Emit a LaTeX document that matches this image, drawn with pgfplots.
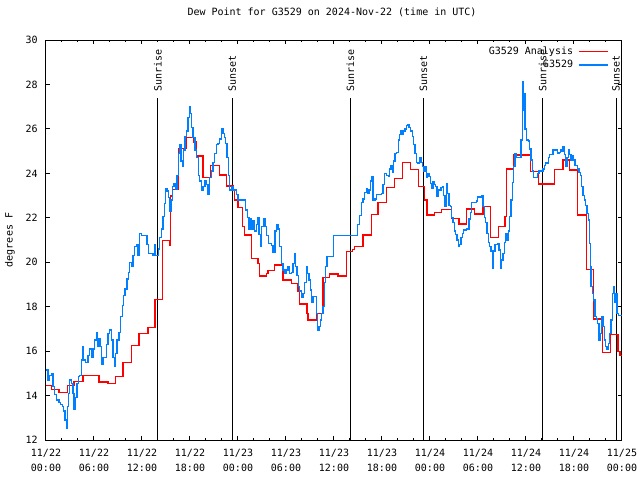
\documentclass[border=0pt]{standalone}
\usepackage{fontspec}
\setmainfont{DejaVu Sans Mono}
\setmonofont{DejaVu Sans Mono}
\usepackage{pgfplots}
\pgfplotsset{compat=1.18}
\definecolor{gred}{RGB}{255,0,0}
\definecolor{gblue}{RGB}{0,128,255}
\newcommand{\gfont}{\fontsize{7.5}{9}\selectfont}
\begin{document}
\begin{tikzpicture}
\begin{axis}[
  at={(0,0)}, anchor=south west,
  scale only axis, width=432pt, height=300pt,
  xmin=0, xmax=72, ymin=12, ymax=30,
  xtick={0,6,...,72}, minor x tick num=2,
  ytick={12,14,...,30},
  xtick pos=both, ytick pos=both,
  tick align=inside,
  major tick length=3pt, minor tick length=1.5pt,
  every tick/.style={black, line width=0.75pt},
  axis line style={line width=0.75pt},
  /pgf/number format/assume math mode=true,
  every tick label/.append style={font=\gfont},
  xticklabels={{11/22\\00:00},{11/22\\06:00},{11/22\\12:00},{11/22\\18:00},{11/23\\00:00},{11/23\\06:00},{11/23\\12:00},{11/23\\18:00},{11/24\\00:00},{11/24\\06:00},{11/24\\12:00},{11/24\\18:00},{11/25\\00:00}},
  xticklabel style={align=center, font=\fontsize{7.5}{11}\selectfont, yshift=-3.5pt},
  yticklabel style={xshift=-2.75pt},
  title={Dew Point for G3529 on 2024-Nov-22 (time in UTC)},
  title style={font=\gfont, at={(rel axis cs:0.5,1)}, anchor=center, yshift=15pt, xshift=-1.5pt},
  ylabel={degrees F},
  ylabel style={font=\gfont, at={([xshift=-27pt]rel axis cs:0,0.5)}, anchor=center},
  legend style={draw=none, fill=none, font=\gfont, at={(rel axis cs:0.985,0.995)}, anchor=north east,
    nodes={inner sep=1pt, text height=6pt, text depth=2pt}, column sep=3pt, row sep=0pt},
  legend cell align=right,
  legend plot pos=right,
  legend image code/.code={\draw[#1] (0pt,0pt) -- (22pt,0pt);},
]
% sunrise / sunset markers
\addplot[black, line width=0.75pt, forget plot] coordinates {(14.0,12) (14.0,27.39)};
\addplot[black, line width=0.75pt, forget plot] coordinates {(23.28,12) (23.28,27.39)};
\addplot[black, line width=0.75pt, forget plot] coordinates {(38.05,12) (38.05,27.39)};
\addplot[black, line width=0.75pt, forget plot] coordinates {(47.18,12) (47.18,27.39)};
\addplot[black, line width=0.75pt, forget plot] coordinates {(62.08,12) (62.08,27.39)};
\addplot[black, line width=0.75pt, forget plot] coordinates {(71.26,12) (71.26,27.39)};
\node[rotate=90, anchor=west, inner sep=0pt, font=\gfont] at (axis cs:14.0,27.66) {Sunrise};
\node[rotate=90, anchor=west, inner sep=0pt, font=\gfont] at (axis cs:23.28,27.66) {Sunset};
\node[rotate=90, anchor=west, inner sep=0pt, font=\gfont] at (axis cs:38.05,27.66) {Sunrise};
\node[rotate=90, anchor=west, inner sep=0pt, font=\gfont] at (axis cs:47.18,27.66) {Sunset};
\node[rotate=90, anchor=west, inner sep=0pt, font=\gfont] at (axis cs:62.08,27.66) {Sunrise};
\node[rotate=90, anchor=west, inner sep=0pt, font=\gfont] at (axis cs:71.26,27.66) {Sunset};
% analysis (red)
\addplot[gred, line width=1pt, const plot] coordinates {
(0,14.46) (0.67,14.28) (1.63,14.15) (2.71,14.46) (3.5,14.64) (4.63,14.91) (6.63,14.61) (7.75,14.55) (8.71,14.87) (9.63,15.50) (10.67,16.26) (11.63,16.80) (12.75,17.07) (13.63,18.33) (14.54,20.97) (15.46,20.75) (15.58,22.98) (15.79,23.28) (16.54,25.13) (17.54,25.62) (18.46,25.41) (18.79,24.78) (19.63,23.82) (20.54,24.36) (21.71,23.93) (22.58,23.43) (23.38,23.28) (23.58,22.8) (24.0,22.47) (24.54,21.6) (24.83,21.23) (25.67,20.18) (26.5,19.95) (26.71,19.38) (27.54,19.5) (27.75,19.62) (28.58,19.88) (29.63,19.2) (30.67,19.05) (31.5,18.68) (31.71,18.12) (32.63,17.7) (32.75,17.4) (33.79,17.7) (34.63,19.32) (35.46,19.47) (36.5,19.38) (37.54,20.48) (38.29,20.58) (38.58,20.7) (39.63,21.23) (40.67,22.16) (41.5,22.68) (42.54,23.37) (43.58,23.78) (44.54,24.48) (45.54,24.18) (46.54,23.4) (47.33,22.8) (47.63,22.13) (48.58,22.23) (49.42,22.38) (50.67,21.97) (51.63,21.72) (52.54,22.4) (53.58,22.17) (54.63,22.5) (55.54,21.12) (56.54,21.6) (57.38,22.05) (57.54,24.2) (58.46,24.82) (60.54,24.07) (61.58,23.52) (63.54,24.18) (64.63,24.6) (65.46,24.15) (66.46,22.13) (67.54,19.68) (68.46,17.45) (69.54,15.93) (70.54,16.74) (71.5,15.99) (71.75,15.8) (72,15.8)
};
\addlegendentry{G3529 Analysis}
% station (blue)
\addplot[gblue, line width=1pt, const plot] coordinates {
(0.04,15.15) (0.25,14.7) (0.46,14.9) (0.67,15.0) (0.88,14.4) (1.08,14.05) (1.29,13.8) (1.63,13.7) (1.79,13.6) (2.04,13.5) (2.21,13.3) (2.38,12.9) (2.54,12.53) (2.67,13.5) (2.79,14.1) (2.96,14.7) (3.17,14.55) (3.38,14.1) (3.5,13.4) (3.71,13.9) (3.88,14.55) (4.04,14.85) (4.21,14.9) (4.42,15.6) (4.54,16.2) (4.71,15.6) (4.96,15.5) (5.25,15.8) (5.46,16.1) (5.67,15.7) (5.88,16.1) (6.08,16.5) (6.29,16.85) (6.46,16.2) (6.63,16.55) (6.79,16.2) (6.96,15.4) (7.13,15.7) (7.38,15.7) (7.54,16.3) (7.75,16.8) (7.96,16.95) (8.17,16.5) (8.38,15.7) (8.58,15.3) (8.71,15.9) (8.88,16.5) (9.13,16.85) (9.29,17.55) (9.54,18.05) (9.71,18.5) (9.88,18.8) (10.13,19.25) (10.29,19.55) (10.46,20.0) (10.71,19.8) (10.88,20.3) (11.08,20.7) (11.29,20.8) (11.5,20.3) (11.71,21.3) (11.92,21.2) (12.46,21.2) (12.63,20.8) (12.79,20.4) (13.17,20.4) (13.38,20.3) (13.54,20.8) (13.71,20.3) (13.88,20.3) (14.04,20.6) (14.21,21.1) (14.42,21.5) (14.63,22.05) (14.79,22.65) (14.96,23.3) (15.13,23.2) (15.29,22.9) (15.46,22.3) (15.63,22.8) (15.79,23.4) (16.0,23.55) (16.21,23.3) (16.38,23.9) (16.54,24.9) (16.71,25.3) (16.88,24.55) (17.04,24.3) (17.21,25.05) (17.38,25.65) (17.54,25.9) (17.75,26.5) (17.96,27.0) (18.08,26.7) (18.21,26.05) (18.38,25.6) (18.63,25.05) (18.79,24.7) (19.04,23.9) (19.21,23.65) (19.46,23.25) (19.63,23.4) (19.88,23.65) (20.04,23.5) (20.25,23.05) (20.46,23.8) (20.67,24.1) (20.88,24.5) (21.08,24.9) (21.29,25.3) (21.5,25.35) (21.71,25.55) (21.92,26.0) (22.13,25.8) (22.29,25.6) (22.46,25.35) (22.63,24.7) (22.79,23.9) (22.96,23.25) (23.17,23.4) (23.38,23.25) (23.58,23.25) (23.79,23.05) (24.0,22.8) (24.71,22.8) (24.96,22.35) (25.21,22.0) (25.38,21.5) (25.54,21.95) (25.71,21.5) (25.88,21.85) (26.04,21.4) (26.29,21.7) (26.46,22.0) (26.63,21.25) (26.79,20.7) (26.96,21.6) (27.21,21.95) (27.38,21.6) (27.54,21.2) (27.79,20.85) (28.17,20.75) (28.38,20.45) (28.63,21.4) (28.79,21.7) (29.0,21.5) (29.21,20.7) (29.42,19.95) (29.63,19.65) (29.88,19.5) (30.04,19.65) (30.25,19.8) (30.46,19.5) (30.67,19.55) (30.88,19.95) (31.04,20.4) (31.21,19.8) (31.38,19.4) (31.54,18.9) (31.71,18.7) (31.92,18.4) (32.13,18.6) (32.33,19.1) (32.54,19.8) (32.71,19.5) (32.88,19.2) (33.04,18.75) (33.21,18.2) (33.38,18.45) (33.63,18.45) (33.79,17.7) (33.96,16.95) (34.13,17.1) (34.29,17.4) (34.46,17.7) (34.63,18.0) (34.79,19.1) (34.96,19.8) (35.13,20.25) (35.79,20.25) (35.96,21.2) (38.79,21.2) (38.96,21.7) (39.21,22.1) (39.46,22.7) (39.63,22.85) (39.79,23.15) (40.04,23.3) (40.21,23.1) (40.38,23.25) (40.54,23.65) (40.71,23.85) (40.88,22.8) (41.13,22.85) (41.29,23.05) (41.96,23.1) (42.13,23.5) (42.29,24.0) (42.54,23.9) (42.79,23.85) (42.96,24.2) (43.13,24.35) (43.29,24.05) (43.46,24.55) (43.63,24.9) (43.79,24.95) (44.04,25.5) (44.21,25.75) (44.38,25.9) (44.54,25.75) (44.71,25.9) (44.88,26.0) (45.04,26.15) (45.21,26.2) (45.38,26.05) (45.54,25.9) (45.79,25.65) (45.96,25.3) (46.13,24.9) (46.29,24.5) (46.5,24.45) (46.71,24.7) (46.88,24.5) (47.04,24.3) (47.21,24.07) (47.38,24.3) (47.54,23.8) (47.71,24.0) (47.88,23.85) (48.04,23.55) (48.21,23.33) (48.38,23.63) (48.54,23.5) (48.71,23.4) (48.88,22.95) (49.04,23.25) (49.38,23.35) (49.54,23.4) (49.71,23.0) (49.88,22.5) (50.04,23.55) (50.21,23.1) (50.38,22.55) (50.54,22.5) (50.71,22.0) (50.88,21.8) (51.04,21.4) (51.21,21.25) (51.38,21.0) (51.54,20.7) (51.71,20.8) (51.88,21.1) (52.04,21.3) (52.21,21.45) (52.54,21.5) (52.88,21.95) (53.04,22.25) (53.21,22.7) (53.79,22.75) (53.96,22.93) (54.46,23.0) (54.63,22.5) (54.79,22.0) (54.96,21.8) (55.13,21.3) (55.29,20.9) (55.46,20.7) (55.63,20.5) (55.79,19.73) (55.96,20.5) (56.13,20.8) (56.46,20.85) (56.63,20.55) (56.79,19.73) (56.96,20.1) (57.13,20.4) (57.29,20.9) (57.46,21.3) (57.63,21.0) (57.79,21.4) (57.96,22.05) (58.13,22.8) (58.29,23.6) (58.46,24.3) (58.63,24.9) (58.79,24.7) (59.21,24.7) (59.38,25.5) (59.54,26.85) (59.63,28.13) (59.71,27.3) (59.79,27.6) (59.88,26.0) (60.04,25.5) (60.29,25.45) (60.46,25.1) (60.63,24.6) (60.79,24.1) (60.96,23.8) (61.29,23.8) (61.46,24.0) (61.63,24.1) (61.96,24.1) (62.13,24.2) (62.29,24.35) (62.46,24.5) (62.63,24.45) (62.79,24.7) (62.96,24.85) (63.21,24.85) (63.38,25.05) (63.79,25.05) (63.96,24.9) (64.13,24.95) (64.29,25.05) (64.46,25.0) (64.63,25.2) (64.79,24.85) (64.96,24.3) (65.13,24.7) (65.29,25.05) (65.46,24.85) (65.63,24.6) (65.79,24.8) (65.96,24.6) (66.13,24.35) (66.46,24.2) (66.63,24.05) (66.79,23.9) (66.96,23.4) (67.13,23.0) (67.29,22.8) (67.46,22.55) (67.63,22.2) (67.79,21.9) (67.96,20.85) (68.04,19.8) (68.13,18.9) (68.29,18.6) (68.46,18.3) (68.63,17.55) (68.79,17.45) (68.96,17.25) (69.13,16.5) (69.29,16.8) (69.46,17.55) (69.63,17.1) (69.79,16.5) (69.96,16.2) (70.13,16.1) (70.29,16.35) (70.46,16.8) (70.63,17.4) (70.79,18.6) (70.92,18.9) (71.04,18.2) (71.21,18.6) (71.38,17.7) (71.54,17.6) (71.71,17.6) (72,17.6)
};
\addlegendentry{G3529}
\end{axis}
\pgfresetboundingbox
\path (-34.5pt,-30pt) rectangle (445.5pt,330pt);
\end{tikzpicture}
\end{document}
